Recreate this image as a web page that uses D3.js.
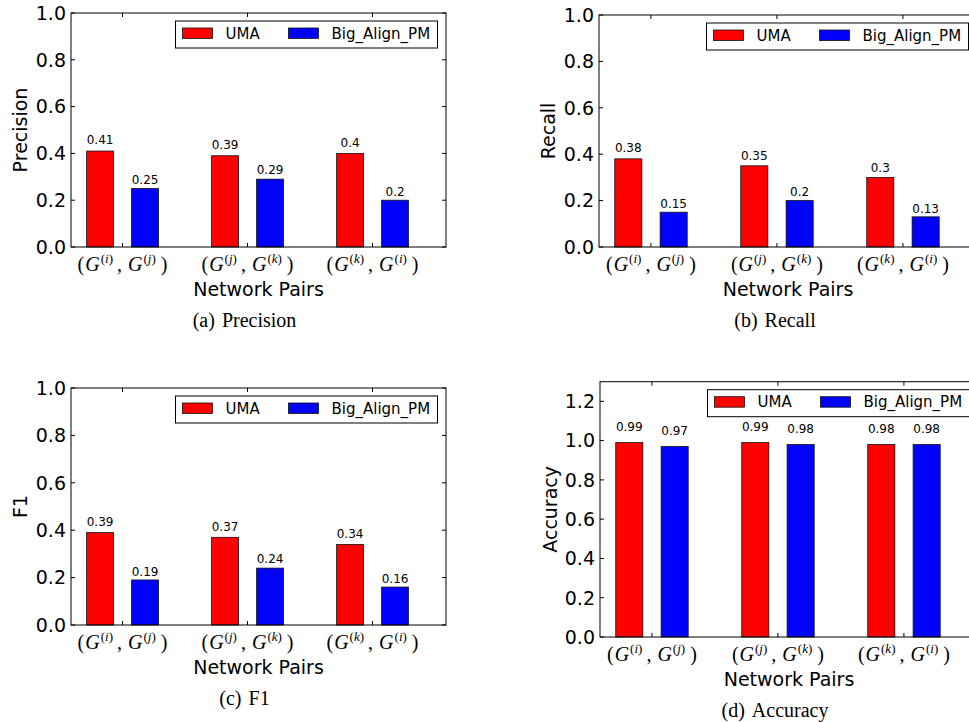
<!DOCTYPE html>
<html>
<head>
<meta charset="utf-8">
<script src="https://d3js.org/d3.v7.min.js"></script>
<style>
  body { margin: 0; background: #fff; }
  svg { display: block; }
  .tick-label { font-family: "DejaVu Sans", sans-serif; font-size: 19px; }
  .value { font-family: "DejaVu Sans", sans-serif; font-size: 12px; }
  .legend-text { font-family: "DejaVu Sans", sans-serif; font-size: 15px; }
  .serif { font-family: "Liberation Serif", "Times New Roman", serif; }
</style>
</head>
<body>
<svg id="chart" width="969" height="722"></svg>
<script>
// network pairs shown on the x axis (superscripts of the two G's)
var pairs = [["i", "j"], ["j", "k"], ["k", "i"]];
var seriesNames = ["UMA", "Big_Align_PM"];
var seriesColors = ["#ff0000", "#0000ff"];

// values
var umaPrecision = [0.41, 0.39, 0.4];
var bigPrecision = [0.25, 0.29, 0.2];
var umaRecall = [0.38, 0.35, 0.3];
var bigRecall = [0.15, 0.2, 0.13];
var umaF1 = [0.39, 0.37, 0.34];
var bigF1 = [0.19, 0.24, 0.16];
var umaAccuracy = [0.99, 0.99, 0.98];
var bigAccuracy = [0.97, 0.98, 0.98];

var yTicksUnit = [0, 0.2, 0.4, 0.6, 0.8, 1.0];
var yTicksAcc = [0, 0.2, 0.4, 0.6, 0.8, 1.0, 1.2];

// panel layout (pixel boxes of each axes)
var panels = [
  {ylabel: "Precision", caption: "(a)", captionText: "Precision", uma: umaPrecision, big: bigPrecision,
   left: 71, top: 13, right: 446, bottom: 247, ymax: 1.0, yticks: yTicksUnit, capX: 244.5, ylabX: 20},
  {ylabel: "Recall", caption: "(b)", captionText: "Recall", uma: umaRecall, big: bigRecall,
   left: 599, top: 15, right: 977, bottom: 247, ymax: 1.0, yticks: yTicksUnit, capX: 775, ylabX: 548},
  {ylabel: "F1", caption: "(c)", captionText: "F1", uma: umaF1, big: bigF1,
   left: 71, top: 388, right: 446, bottom: 625, ymax: 1.0, yticks: yTicksUnit, capX: 244.5, ylabX: 20},
  {ylabel: "Accuracy", caption: "(d)", captionText: "Accuracy", uma: umaAccuracy, big: bigAccuracy,
   left: 600, top: 381.7, right: 978, bottom: 637, ymax: 1.3, yticks: yTicksAcc, capX: 775, ylabX: 550}
];

// bar offsets within one group, in x units
var barW = 0.215;
var barOff = [0.125, 0.485];
var tickOff = 0.412;

var svg = d3.select("#chart");
var fmt = d3.format(".1f");

panels.forEach(function(p) {
  var x = d3.scaleLinear().domain([0, 3]).range([p.left, p.right]);
  var y = d3.scaleLinear().domain([0, p.ymax]).range([p.bottom, p.top]);
  var g = svg.append("g");
  var tickLen = 4;

  // bars
  [p.uma, p.big].forEach(function(vals, s) {
    g.selectAll(null)
      .data(vals)
      .enter().append("rect")
      .attr("x", function(d, i) { return x(i + barOff[s]); })
      .attr("width", x(barW) - x(0))
      .attr("y", function(d) { return y(d); })
      .attr("height", function(d) { return y(0) - y(d); })
      .attr("fill", seriesColors[s])
      .attr("stroke", "#111")
      .attr("stroke-width", 0.8);

    // value labels
    g.selectAll(null)
      .data(vals)
      .enter().append("text")
      .attr("class", "value")
      .attr("x", function(d, i) { return x(i + barOff[s] + barW / 2); })
      .attr("y", function(d) { return y(d * 1.05) - 2; })
      .attr("text-anchor", "middle")
      .text(function(d) { return String(d); });
  });

  // frame
  g.append("rect")
    .attr("x", p.left).attr("y", p.top)
    .attr("width", p.right - p.left).attr("height", p.bottom - p.top)
    .attr("fill", "none").attr("stroke", "#000").attr("stroke-width", 1);

  // y ticks (inside, both sides)
  p.yticks.forEach(function(t) {
    g.append("line").attr("x1", p.left).attr("x2", p.left + tickLen)
      .attr("y1", y(t)).attr("y2", y(t)).attr("stroke", "#000");
    g.append("line").attr("x1", p.right).attr("x2", p.right - tickLen)
      .attr("y1", y(t)).attr("y2", y(t)).attr("stroke", "#000");
    g.append("text").attr("class", "tick-label")
      .attr("x", p.left - 5).attr("y", y(t)).attr("dy", "0.36em")
      .attr("text-anchor", "end").text(fmt(t));
  });

  // x ticks and math labels
  pairs.forEach(function(pr, i) {
    var xt = x(i + tickOff);
    g.append("line").attr("x1", xt).attr("x2", xt)
      .attr("y1", p.bottom).attr("y2", p.bottom - tickLen).attr("stroke", "#000");
    g.append("line").attr("x1", xt).attr("x2", xt)
      .attr("y1", p.top).attr("y2", p.top + tickLen).attr("stroke", "#000");
    var t = g.append("text").attr("class", "serif")
      .attr("x", xt).attr("y", p.bottom + 24)
      .attr("text-anchor", "middle").style("font-size", "20px");
    t.append("tspan").text("(");
    t.append("tspan").attr("dx", 1).attr("font-style", "italic").text("G");
    t.append("tspan").attr("dy", -8).attr("dx", 1).style("font-size", "13px").text("(");
    t.append("tspan").style("font-size", "13px").attr("font-style", "italic").text(pr[0]);
    t.append("tspan").style("font-size", "13px").text(")");
    t.append("tspan").attr("dy", 8).attr("dx", 4).text(",");
    t.append("tspan").attr("dx", 6).attr("font-style", "italic").text("G");
    t.append("tspan").attr("dy", -8).attr("dx", 1).style("font-size", "13px").text("(");
    t.append("tspan").style("font-size", "13px").attr("font-style", "italic").text(pr[1]);
    t.append("tspan").style("font-size", "13px").text(")");
    t.append("tspan").attr("dy", 8).attr("dx", 5).text(")");
  });

  // axis titles
  g.append("text").attr("class", "tick-label")
    .attr("x", (p.left + p.right) / 2).attr("y", p.bottom + 49)
    .attr("text-anchor", "middle").text("Network Pairs");
  g.append("text").attr("class", "tick-label")
    .attr("transform", "translate(" + (p.ylabX + 7) + "," + ((p.top + p.bottom) / 2) + ") rotate(-90)")
    .attr("text-anchor", "middle").text(p.ylabel);

  // legend
  var lx = p.right - 8.5 - 262, ly = p.top + 8;
  var leg = g.append("g").attr("transform", "translate(" + lx + "," + ly + ")");
  leg.append("rect").attr("width", 262).attr("height", 27)
    .attr("fill", "#fff").attr("stroke", "#000").attr("stroke-width", 1);
  seriesNames.forEach(function(name, s) {
    var ox = s === 0 ? 7 : 113;
    leg.append("rect").attr("x", ox).attr("y", 7).attr("width", 30).attr("height", 10.5)
      .attr("fill", seriesColors[s]).attr("stroke", "#111").attr("stroke-width", 0.8);
    leg.append("text").attr("class", "legend-text")
      .attr("x", ox + 43).attr("y", 17.5).text(name);
  });

  // caption
  var cap = g.append("text").attr("class", "serif")
    .attr("x", p.capX).attr("y", p.bottom + 80)
    .attr("text-anchor", "middle").style("font-size", "20px");
  cap.append("tspan").text(p.caption);
  cap.append("tspan").attr("dx", 7).text(p.captionText);
});
</script>
</body>
</html>
